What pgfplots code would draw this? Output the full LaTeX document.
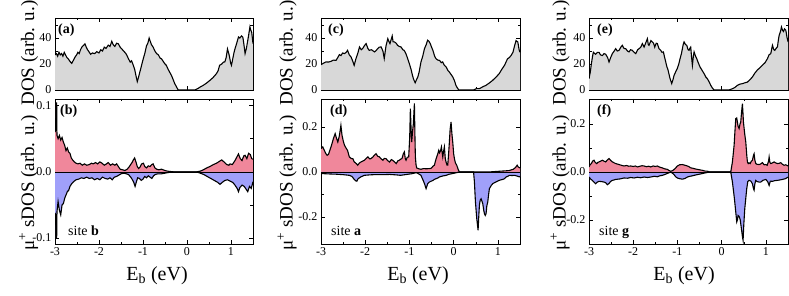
\documentclass[border=0pt]{standalone}
\usepackage{fontspec}
\setmainfont{Liberation Serif}
\usepackage{pgfplots}
\usepackage{pgfplotstable}
\pgfplotsset{compat=1.18}
\definecolor{pinkf}{RGB}{240,135,155}
\definecolor{bluef}{RGB}{160,160,250}
\definecolor{grayf}{RGB}{216,216,216}

\pgfplotstableread{
E v
-3.00 27
-2.97 28
-2.94 26
-2.91 29
-2.88 27
-2.85 28
-2.82 26
-2.79 29
-2.76 27
-2.73 25
-2.70 24
-2.66 22
-2.62 20.5
-2.58 23
-2.55 25
-2.51 27
-2.48 29
-2.45 28
-2.42 31
-2.39 33
-2.36 34
-2.32 35.5
-2.29 33
-2.26 31
-2.22 29
-2.19 27.5
-2.15 28.5
-2.10 28
-2.05 29.5
-2.00 28.5
-1.96 31
-1.92 30
-1.88 33
-1.84 32
-1.79 34.5
-1.75 33.5
-1.71 37.5
-1.68 35
-1.64 33.5
-1.60 36
-1.56 35.5
-1.52 33
-1.48 31.5
-1.44 30
-1.40 28.5
-1.37 27
-1.33 24
-1.29 21.5
-1.26 22.5
-1.22 19
-1.19 16
-1.16 11
-1.13 6.5
-1.10 10
-1.07 14
-1.04 18
-1.01 22
-0.99 24.5
-0.96 28
-0.92 34
-0.89 36
-0.86 40
-0.84 38
-0.81 35
-0.77 33
-0.73 30
-0.69 28
-0.65 27
-0.61 24.5
-0.58 24
-0.54 22
-0.50 20
-0.47 19
-0.43 16
-0.39 13.5
-0.35 11
-0.32 8.5
-0.28 5
-0.24 2.5
-0.20 0
0.18 0
0.25 1.2
0.31 2.5
0.37 3.6
0.44 5.2
0.52 7.4
0.59 9.5
0.67 12.6
0.71 15
0.74 19
0.79 20
0.83 21.5
0.86 21.6
0.89 25
0.92 31.6
0.95 28
0.97 25
0.99 21
1.01 19
1.04 24
1.07 29
1.09 31.6
1.13 36
1.17 40.8
1.20 40
1.24 41.6
1.27 40.5
1.29 36
1.32 28
1.35 32
1.37 36
1.40 42
1.43 48.5
1.45 46
1.47 44.5
1.50 35.8
}\dosA

\pgfplotstableread{
E v
-3.000 0.060
-2.985 0.063
-2.978 0.104
-2.962 0.104
-2.955 0.055
-2.93 0.050
-2.90 0.055
-2.87 0.048
-2.84 0.052
-2.81 0.045
-2.78 0.040
-2.75 0.032
-2.72 0.036
-2.69 0.030
-2.66 0.028
-2.63 0.021
-2.60 0.018
-2.56 0.015
-2.52 0.013
-2.48 0.012
-2.43 0.013
-2.38 0.010
-2.33 0.012
-2.28 0.010
-2.22 0.011
-2.17 0.013
-2.13 0.012
-2.08 0.014
-2.03 0.012
-1.98 0.015
-1.93 0.013
-1.88 0.010
-1.83 0.012
-1.79 0.014
-1.74 0.010
-1.69 0.012
-1.64 0.010
-1.60 0.012
-1.55 0.007
-1.52 0.004
-1.46 0.003
-1.41 0.002
-1.36 0.004
-1.32 0.007
-1.29 0.010
-1.25 0.014
-1.22 0.018
-1.19 0.021
-1.16 0.015
-1.13 0.008
-1.10 0.005
-1.07 0.007
-1.03 0.012
-0.99 0.013
-0.96 0.008
-0.92 0.006
-0.88 0.009
-0.84 0.008
-0.80 0.011
-0.77 0.012
-0.73 0.006
-0.69 0.004
-0.64 0.003
-0.58 0.004
-0.50 0.002
-0.44 0.001
-0.38 0.0005
-0.31 0
0.22 0
0.30 0.001
0.37 0.003
0.45 0.006
0.52 0.008
0.60 0.011
0.67 0.013
0.74 0.016
0.79 0.018
0.84 0.015
0.90 0.011
0.95 0.010
0.98 0.012
1.03 0.011
1.09 0.017
1.13 0.022
1.17 0.027
1.21 0.020
1.25 0.017
1.29 0.024
1.32 0.025
1.36 0.020
1.40 0.028
1.44 0.026
1.47 0.020
1.50 0.019
}\bpos

\pgfplotstableread{
E v
-3.000 -0.062
-2.985 -0.065
-2.978 -0.100
-2.962 -0.100
-2.955 -0.060
-2.93 -0.045
-2.90 -0.058
-2.87 -0.065
-2.84 -0.050
-2.81 -0.048
-2.78 -0.040
-2.75 -0.035
-2.72 -0.030
-2.69 -0.028
-2.66 -0.022
-2.62 -0.018
-2.58 -0.015
-2.52 -0.012
-2.46 -0.011
-2.40 -0.009
-2.34 -0.010
-2.28 -0.008
-2.22 -0.010
-2.16 -0.009
-2.10 -0.012
-2.04 -0.010
-1.98 -0.012
-1.92 -0.008
-1.86 -0.010
-1.80 -0.011
-1.75 -0.009
-1.70 -0.012
-1.65 -0.008
-1.60 -0.007
-1.55 -0.005
-1.50 -0.003
-1.44 -0.002
-1.38 -0.003
-1.33 -0.004
-1.28 -0.008
-1.24 -0.012
-1.21 -0.016
-1.18 -0.022
-1.15 -0.015
-1.12 -0.009
-1.08 -0.010
-1.04 -0.013
-1.00 -0.011
-0.96 -0.007
-0.92 -0.009
-0.88 -0.006
-0.84 -0.008
-0.80 -0.010
-0.76 -0.006
-0.72 -0.004
-0.66 -0.003
-0.58 -0.003
-0.50 -0.002
-0.42 -0.001
-0.31 0
0.22 0
0.30 -0.002
0.38 -0.004
0.46 -0.007
0.54 -0.010
0.62 -0.013
0.70 -0.016
0.75 -0.019
0.80 -0.016
0.86 -0.013
0.92 -0.012
0.98 -0.014
1.04 -0.016
1.09 -0.020
1.14 -0.025
1.17 -0.030
1.20 -0.024
1.25 -0.020
1.30 -0.022
1.34 -0.026
1.38 -0.030
1.42 -0.022
1.46 -0.025
1.50 -0.015
}\bneg

\pgfplotstableread{
E v
-3.000 19.5
-2.95 20.5
-2.89 21.6
-2.83 21.5
-2.77 22.1
-2.72 23
-2.66 22.8
-2.62 25
-2.585 27.2
-2.55 26.5
-2.51 28.5
-2.47 28
-2.43 29
-2.40 30.5
-2.36 27
-2.32 25.4
-2.28 22
-2.25 19
-2.21 24.1
-2.17 28
-2.13 33.1
-2.09 31
-2.06 31.8
-2.02 34
-1.98 35.7
-1.94 32
-1.91 30.5
-1.86 31
-1.79 29.3
-1.75 30.5
-1.72 31.8
-1.68 33
-1.64 33.1
-1.60 30
-1.57 24.2
-1.53 34
-1.49 39.5
-1.46 37
-1.44 35.7
-1.39 41.6
-1.37 37
-1.34 37
-1.30 36
-1.27 34.4
-1.23 33.5
-1.19 33.1
-1.15 31
-1.12 30.5
-1.08 28
-1.04 24.1
-1.00 20
-0.96 15.4
-0.93 11
-0.91 8.7
-0.89 7
-0.87 5.6
-0.84 8
-0.81 10
-0.78 14
-0.74 21.5
-0.70 26
-0.66 31.8
-0.62 35
-0.59 38.3
-0.56 37.5
-0.53 35.7
-0.50 33
-0.47 30.5
-0.43 26
-0.40 24.1
-0.36 23
-0.32 22.8
-0.28 21
-0.25 21.6
-0.21 19
-0.17 17.7
-0.13 15
-0.10 13.9
-0.06 12
-0.02 10
0.02 7
0.05 3.6
0.08 1.8
0.115 0
0.45 0
0.51 1
0.58 1
0.66 2.5
0.73 3.6
0.81 5.5
0.88 7.4
0.96 10
1.03 12.6
1.09 16
1.15 19
1.19 22
1.22 24.1
1.26 25
1.30 26.7
1.34 29
1.37 33.1
1.41 38
1.45 37
1.48 31
1.50 29
}\dosC

\pgfplotstableread{
E v
-3.000 0.104
-2.96 0.111
-2.925 0.096
-2.89 0.081
-2.86 0.074
-2.83 0.078
-2.80 0.096
-2.76 0.120
-2.72 0.148
-2.68 0.170
-2.65 0.150
-2.62 0.133
-2.59 0.156
-2.57 0.180
-2.55 0.207
-2.525 0.163
-2.50 0.140
-2.47 0.119
-2.43 0.105
-2.40 0.096
-2.36 0.067
-2.32 0.060
-2.28 0.059
-2.25 0.045
-2.20 0.037
-2.17 0.030
-2.13 0.040
-2.10 0.044
-2.06 0.048
-2.02 0.052
-1.98 0.060
-1.94 0.067
-1.90 0.058
-1.87 0.059
-1.83 0.066
-1.79 0.075
-1.755 0.081
-1.72 0.070
-1.68 0.067
-1.64 0.058
-1.60 0.052
-1.57 0.060
-1.53 0.059
-1.49 0.050
-1.45 0.044
-1.41 0.055
-1.38 0.052
-1.34 0.045
-1.30 0.037
-1.26 0.050
-1.23 0.052
-1.19 0.058
-1.17 0.059
-1.14 0.080
-1.115 0.089
-1.095 0.060
-1.077 0.052
-1.05 0.065
-1.017 0.067
-0.995 0.150
-0.979 0.281
-0.965 0.200
-0.949 0.133
-0.93 0.180
-0.911 0.215
-0.90 0.260
-0.888 0.304
-0.875 0.150
-0.866 0.067
-0.85 0.030
-0.836 0.018
-0.79 0.014
-0.738 0.012
-0.68 0.015
-0.62 0.014
-0.55 0.015
-0.51 0.016
-0.47 0.025
-0.436 0.030
-0.41 0.050
-0.383 0.067
-0.36 0.080
-0.338 0.096
-0.32 0.085
-0.308 0.089
-0.29 0.100
-0.277 0.111
-0.26 0.085
-0.247 0.067
-0.23 0.090
-0.21 0.111
-0.19 0.060
-0.172 0.044
-0.15 0.030
-0.134 0.030
-0.115 0.080
-0.097 0.133
-0.08 0.190
-0.059 0.222
-0.04 0.170
-0.021 0.133
0.00 0.080
0.017 0.059
0.04 0.040
0.069 0.030
0.10 0.012
0.129 0
0.80 0
0.95 0.002
1.10 0.004
1.25 0.006
1.35 0.012
1.40 0.020
1.435 0.030
1.46 0.022
1.50 0.018
}\dpos

\pgfplotstableread{
E v
-3.000 -0.007
-2.80 -0.009
-2.66 -0.010
-2.50 -0.012
-2.36 -0.015
-2.30 -0.020
-2.25 -0.033
-2.21 -0.040
-2.19 -0.041
-2.16 -0.030
-2.10 -0.022
-2.02 -0.015
-1.90 -0.013
-1.80 -0.012
-1.60 -0.012
-1.45 -0.011
-1.30 -0.013
-1.20 -0.015
-1.10 -0.012
-0.95 -0.008
-0.84 -0.003
-0.78 -0.010
-0.74 -0.015
-0.70 -0.033
-0.66 -0.052
-0.624 -0.074
-0.60 -0.060
-0.587 -0.052
-0.55 -0.045
-0.51 -0.041
-0.47 -0.038
-0.436 -0.033
-0.40 -0.030
-0.36 -0.027
-0.32 -0.022
-0.25 -0.018
-0.17 -0.015
-0.10 -0.010
-0.02 -0.007
0.07 -0.003
0.129 0
0.45 0
0.469 -0.044
0.492 -0.133
0.522 -0.207
0.552 -0.259
0.567 -0.200
0.582 -0.148
0.60 -0.125
0.62 -0.119
0.64 -0.130
0.658 -0.141
0.68 -0.170
0.695 -0.185
0.715 -0.193
0.733 -0.185
0.75 -0.150
0.771 -0.133
0.79 -0.100
0.808 -0.074
0.85 -0.060
0.884 -0.052
0.92 -0.048
0.959 -0.044
1.00 -0.040
1.035 -0.037
1.07 -0.035
1.11 -0.033
1.15 -0.030
1.186 -0.022
1.22 -0.020
1.261 -0.015
1.32 -0.016
1.375 -0.015
1.43 -0.018
1.488 -0.022
1.50 -0.021
}\dneg

\pgfplotstableread{
E v
-3.000 8.7
-2.97 14
-2.947 20
-2.92 26
-2.902 29
-2.87 28
-2.849 27.5
-2.81 29
-2.774 29
-2.74 27
-2.698 26.5
-2.66 28
-2.623 27.5
-2.58 25
-2.547 21.6
-2.51 25
-2.472 28
-2.43 30
-2.397 31.8
-2.36 30
-2.321 30.5
-2.28 33
-2.246 34.4
-2.21 32
-2.17 31.8
-2.13 30
-2.095 29.3
-2.06 31
-2.02 30.5
-1.98 29
-1.944 28
-1.90 31
-1.868 31.8
-1.83 33
-1.793 35.7
-1.755 33
-1.72 36
-1.68 39.5
-1.66 35
-1.643 34.4
-1.60 38
-1.567 37
-1.54 36
-1.514 33
-1.48 36
-1.454 35.7
-1.42 32
-1.378 30.5
-1.35 29
-1.318 29.3
-1.29 25
-1.265 21.6
-1.24 18
-1.213 15.4
-1.19 12
-1.167 8.7
-1.13 4.9
-1.10 8
-1.077 11.2
-1.04 14
-1.002 16.7
-0.97 20
-0.941 24.1
-0.91 28
-0.888 31.8
-0.87 35
-0.85 37
-0.82 35
-0.79 34.4
-0.76 31
-0.738 30.5
-0.72 32
-0.70 33
-0.68 25
-0.662 19
-0.64 26
-0.624 29.3
-0.59 26
-0.564 24.1
-0.53 21
-0.489 17.7
-0.45 15.5
-0.398 12.6
-0.36 10
-0.323 8.7
-0.28 6
-0.247 3.6
-0.21 1.5
-0.172 0
0.167 0
0.243 1
0.30 2
0.356 3.6
0.41 4.5
0.469 4.9
0.52 5.5
0.582 6.1
0.64 8
0.695 10
0.75 13
0.808 15.4
0.86 17
0.921 19
0.98 21
1.035 24.1
1.07 27
1.11 28
1.148 34.4
1.18 31
1.201 30.5
1.23 32
1.261 33.1
1.28 38
1.299 42
1.33 45
1.352 48.5
1.375 46
1.397 45
1.42 47
1.45 46
1.48 40
1.503 37
}\dosE

\pgfplotstableread{
E v
-3.000 0.021
-2.975 0.030
-2.947 0.035
-2.92 0.045
-2.887 0.049
-2.86 0.040
-2.827 0.035
-2.80 0.040
-2.774 0.042
-2.74 0.045
-2.698 0.049
-2.66 0.045
-2.623 0.042
-2.585 0.050
-2.547 0.056
-2.51 0.048
-2.472 0.042
-2.43 0.038
-2.397 0.035
-2.36 0.033
-2.321 0.031
-2.27 0.028
-2.208 0.025
-2.15 0.027
-2.10 0.024
-2.057 0.025
-2.00 0.023
-1.95 0.025
-1.906 0.021
-1.85 0.024
-1.80 0.026
-1.755 0.025
-1.70 0.022
-1.65 0.024
-1.604 0.021
-1.55 0.025
-1.50 0.023
-1.454 0.025
-1.40 0.020
-1.341 0.017
-1.29 0.013
-1.227 0.011
-1.19 0.006
-1.152 0.003
-1.12 0.005
-1.092 0.008
-1.05 0.015
-1.002 0.025
-0.95 0.030
-0.888 0.031
-0.83 0.028
-0.775 0.025
-0.74 0.022
-0.70 0.017
-0.66 0.016
-0.624 0.014
-0.58 0.012
-0.549 0.011
-0.50 0.009
-0.436 0.007
-0.38 0.004
-0.323 0.003
-0.262 0
0.205 0
0.243 0.042
0.281 0.111
0.30 0.170
0.318 0.222
0.34 0.225
0.356 0.208
0.371 0.190
0.394 0.181
0.415 0.200
0.431 0.208
0.45 0.250
0.469 0.285
0.48 0.250
0.492 0.208
0.52 0.160
0.545 0.125
0.567 0.070
0.582 0.042
0.60 0.035
0.62 0.038
0.643 0.035
0.67 0.045
0.695 0.049
0.72 0.070
0.733 0.076
0.75 0.050
0.771 0.035
0.80 0.032
0.846 0.031
0.88 0.033
0.921 0.039
0.96 0.030
0.997 0.031
1.03 0.028
1.06 0.045
1.073 0.0625
1.09 0.040
1.11 0.035
1.15 0.038
1.186 0.042
1.22 0.038
1.261 0.035
1.30 0.036
1.337 0.039
1.375 0.032
1.412 0.028
1.45 0.030
1.503 0.025
}\fpos

\pgfplotstableread{
E v
-3.000 -0.021
-2.96 -0.030
-2.925 -0.035
-2.887 -0.042
-2.849 -0.049
-2.81 -0.042
-2.774 -0.039
-2.72 -0.040
-2.66 -0.042
-2.62 -0.045
-2.585 -0.053
-2.547 -0.048
-2.51 -0.039
-2.472 -0.035
-2.43 -0.033
-2.397 -0.031
-2.30 -0.029
-2.208 -0.025
-2.13 -0.026
-2.057 -0.023
-1.98 -0.025
-1.906 -0.022
-1.83 -0.024
-1.755 -0.021
-1.68 -0.023
-1.604 -0.021
-1.52 -0.018
-1.454 -0.020
-1.40 -0.016
-1.341 -0.014
-1.28 -0.010
-1.227 -0.006
-1.19 -0.003
-1.152 -0.001
-1.12 -0.004
-1.077 -0.011
-1.04 -0.020
-1.002 -0.025
-0.95 -0.028
-0.888 -0.030
-0.83 -0.027
-0.775 -0.021
-0.72 -0.018
-0.66 -0.016
-0.624 -0.014
-0.55 -0.011
-0.474 -0.008
-0.40 -0.005
-0.323 -0.002
-0.262 0
0.205 0
0.243 -0.042
0.281 -0.100
0.296 -0.125
0.32 -0.170
0.341 -0.208
0.356 -0.200
0.371 -0.181
0.385 -0.183
0.401 -0.188
0.42 -0.200
0.446 -0.236
0.47 -0.270
0.484 -0.285
0.50 -0.220
0.522 -0.153
0.545 -0.110
0.567 -0.069
0.59 -0.040
0.62 -0.035
0.66 -0.038
0.695 -0.049
0.72 -0.070
0.733 -0.076
0.75 -0.050
0.771 -0.035
0.80 -0.040
0.846 -0.042
0.884 -0.042
0.93 -0.035
0.997 -0.031
1.04 -0.040
1.073 -0.056
1.10 -0.038
1.148 -0.039
1.20 -0.036
1.261 -0.035
1.32 -0.033
1.375 -0.031
1.44 -0.028
1.503 -0.021
}\fneg

\pgfplotsset{
  base/.style={
    scale only axis, xmin=-3, xmax=1.5,
    xtick={-3,-2,-1,0,1}, minor xtick={-2.5,-1.5,-0.5,0.5},
    tick align=inside, major tick length=4bp, minor tick length=2.5bp,
    every tick/.style={black, line width=0.5pt},
    axis line style={line width=0.6pt},
    /pgf/number format/assume math mode=true,
    tick label style={font=\fontsize{12bp}{14bp}\selectfont},
  },
  toppan/.style={base, height=72bp, ymin=0, ymax=55.4,
    ytick={0,20,40}, minor ytick={10,30,50}, xticklabels={}},
  botpan/.style={base, height=145bp,
    yticklabel style={/pgf/number format/.cd, fixed, fixed zerofill, precision=1}},
  pl/.style={black, line width=1.1pt},
}
\newcommand{\lab}[3]{\node[anchor=north west, inner sep=0pt, font=\bfseries\fontsize{14bp}{16bp}\selectfont, xshift=#2] at (rel axis cs:0,1) [yshift=-5.5bp] {#1};}
\newcommand{\site}[2]{\node[anchor=base west, inner sep=0pt, font=\fontsize{14bp}{16bp}\selectfont, xshift=#2, yshift=8.5bp] at (rel axis cs:0,0) {site \textbf{#1}};}

\begin{document}
\begin{tikzpicture}[x=1bp,y=1bp]
\useasboundingbox (0,0) rectangle (789,295);

% ---- column 1
\begin{axis}[toppan, at={(55bp,205bp)}, anchor=south west, width=198bp]
\addplot[fill=grayf, draw=none] table[x=E,y=v] {\dosA} \closedcycle;
\addplot[pl] table[x=E,y=v] {\dosA};
\lab{(a)}{3bp}{}
\end{axis}
\begin{axis}[botpan, at={(55bp,51bp)}, anchor=south west, width=198bp,
  ymin=-0.109, ymax=0.11, ytick={-0.1,0,0.1}, minor ytick={-0.05,0.05}]
\addplot[fill=pinkf, draw=none] table[x=E,y=v] {\bpos} \closedcycle;
\addplot[fill=bluef, draw=none] table[x=E,y=v] {\bneg} \closedcycle;
\addplot[black, line width=0.5pt] coordinates {(-3,0) (1.5,0)};
\addplot[pl] table[x=E,y=v] {\bpos};
\addplot[pl] table[x=E,y=v] {\bneg};
\lab{(b)}{5bp}{}
\site{b}{13bp}
\end{axis}

% ---- column 2
\begin{axis}[toppan, at={(321bp,205bp)}, anchor=south west, width=199bp]
\addplot[fill=grayf, draw=none] table[x=E,y=v] {\dosC} \closedcycle;
\addplot[pl] table[x=E,y=v] {\dosC};
\lab{(c)}{7bp}{}
\end{axis}
\begin{axis}[botpan, at={(321bp,51bp)}, anchor=south west, width=199bp,
  ymin=-0.32, ymax=0.324, ytick={-0.2,0,0.2}, minor ytick={-0.1,0.1}]
\addplot[fill=pinkf, draw=none] table[x=E,y=v] {\dpos} \closedcycle;
\addplot[fill=bluef, draw=none] table[x=E,y=v] {\dneg} \closedcycle;
\addplot[black, line width=0.5pt] coordinates {(-3,0) (1.5,0)};
\addplot[pl] table[x=E,y=v] {\dpos};
\addplot[pl] table[x=E,y=v] {\dneg};
\lab{(d)}{9bp}{}
\site{a}{10bp}
\end{axis}

% ---- column 3
\begin{axis}[toppan, at={(589bp,205bp)}, anchor=south west, width=199bp]
\addplot[fill=grayf, draw=none] table[x=E,y=v] {\dosE} \closedcycle;
\addplot[pl] table[x=E,y=v] {\dosE};
\lab{(e)}{8bp}{}
\end{axis}
\begin{axis}[botpan, at={(589bp,51bp)}, anchor=south west, width=199bp,
  ymin=-0.30, ymax=0.304, ytick={-0.2,0,0.2}, minor ytick={-0.1,0.1}]
\addplot[fill=pinkf, draw=none] table[x=E,y=v] {\fpos} \closedcycle;
\addplot[fill=bluef, draw=none] table[x=E,y=v] {\fneg} \closedcycle;
\addplot[black, line width=0.5pt] coordinates {(-3,0) (1.5,0)};
\addplot[pl] table[x=E,y=v] {\fpos};
\addplot[pl] table[x=E,y=v] {\fneg};
\lab{(f)}{8bp}{}
\site{g}{10bp}
\end{axis}

% ---- axis labels
\foreach \lx/\cx in {34/157, 292.6/418, 565.6/684} {
  \node[rotate=90, anchor=base, inner sep=0pt, font=\fontsize{19bp}{21bp}\selectfont] at (\lx,242) {DOS (arb. u.)};
  \node[rotate=90, anchor=base, inner sep=0pt, font=\fontsize{19bp}{21bp}\selectfont] at (\lx,112) {μ\textsuperscript{+} sDOS (arb. u.)};
  \node[anchor=base, inner sep=0pt, font=\fontsize{20bp}{22bp}\selectfont] at (\cx,15) {E\textsubscript{b} (eV)};
}
\end{tikzpicture}
\end{document}
